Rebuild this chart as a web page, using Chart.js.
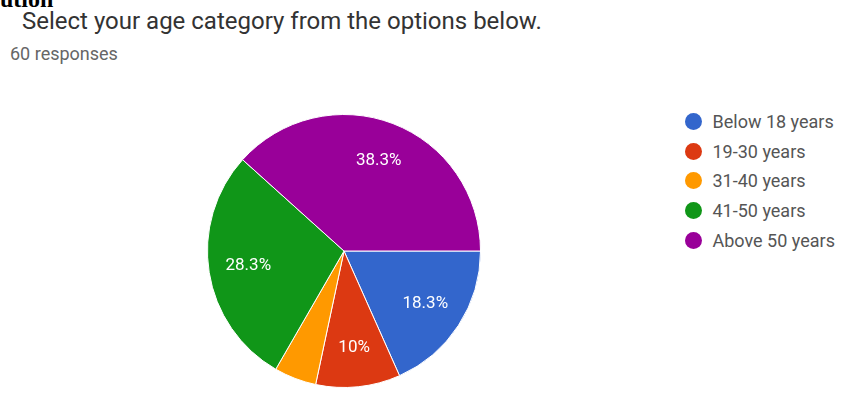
<!DOCTYPE html>
<html>
<head>
<meta charset="utf-8">
<script src="https://cdn.jsdelivr.net/npm/chart.js@4/dist/chart.umd.min.js"></script>
<style>
  body { margin: 0; width: 850px; height: 403px; background: #fff; position: relative; overflow: hidden; font-family: Roboto, Arial, sans-serif; }
  .cut { position: absolute; left: 0; top: -14px; font: bold 24px "Liberation Serif", serif; line-height: 1.15; color: #000; }
  .title { position: absolute; left: 22px; top: 9px; font-size: 24px; line-height: 1; color: #333; white-space: nowrap; }
  .sub { position: absolute; left: 10px; top: 45px; font-size: 18px; line-height: 1; color: #666; }
  .chart { position: absolute; left: 204px; top: 111px; width: 280px; height: 280px; }
  .legend { position: absolute; left: 685px; top: 107px; font-size: 18px; color: #555; white-space: nowrap; }
  .legend div { height: 29.6px; display: flex; align-items: center; }
  .legend span { display: inline-block; width: 17px; height: 17px; border-radius: 50%; margin-right: 11px; margin-left: -0.5px; }
</style>
</head>
<body>
<div class="cut">ution</div>
<div class="title">Select your age category from the options below.</div>
<div class="sub">60 responses</div>
<div class="chart"><canvas id="pie"></canvas></div>
<div class="legend" id="legend"></div>
<script>
const categories = ['Below 18 years', '19-30 years', '31-40 years', '41-50 years', 'Above 50 years'];
const responses = [11, 6, 3, 17, 23];
const colors = ['#3366cc', '#dc3912', '#ff9900', '#109618', '#990099'];

// legend built from the same arrays
const legendEl = document.getElementById('legend');
categories.forEach((c, i) => {
  const row = document.createElement('div');
  row.innerHTML = '<span style="background:' + colors[i] + '"></span>' + c;
  legendEl.appendChild(row);
});

// percentage text inside the slices
const sliceLabels = {
  id: 'sliceLabels',
  afterDatasetsDraw(chart) {
    const ctx = chart.ctx;
    const meta = chart.getDatasetMeta(0);
    const data = chart.data.datasets[0].data;
    const total = data.reduce((a, b) => a + b, 0);
    ctx.save();
    ctx.fillStyle = '#fff';
    ctx.font = '17px Roboto, Arial, sans-serif';
    ctx.textAlign = 'center';
    ctx.textBaseline = 'middle';
    meta.data.forEach((arc, i) => {
      const pct = data[i] / total * 100;
      if (pct < 8) return;
      const mid = (arc.startAngle + arc.endAngle) / 2;
      const r = arc.outerRadius * 0.71;
      const txt = (Math.round(pct * 10) / 10) + '%';
      ctx.fillText(txt, arc.x + Math.cos(mid) * r, arc.y + Math.sin(mid) * r);
    });
    ctx.restore();
  }
};

new Chart(document.getElementById('pie'), {
  type: 'pie',
  data: {
    labels: categories,
    datasets: [{
      data: responses,
      backgroundColor: colors,
      borderColor: '#fff',
      borderWidth: 1
    }]
  },
  options: {
    responsive: true,
    maintainAspectRatio: false,
    animation: false,
    rotation: 90,
    layout: { padding: 3 },
    plugins: {
      legend: { display: false },
      tooltip: { enabled: false }
    }
  },
  plugins: [sliceLabels]
});
</script>
</body>
</html>
